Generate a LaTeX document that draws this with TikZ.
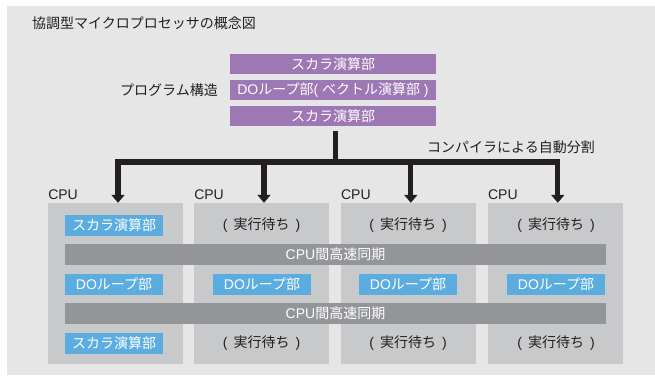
\documentclass[tikz,border=0pt]{standalone}
\usepackage{fontspec}
\setmainfont{Liberation Sans}
\newfontfamily\jp{Noto Sans CJK JP}
\usetikzlibrary{arrows.meta,calc}
\definecolor{bg}{HTML}{E6E6E6}
\definecolor{ink}{HTML}{231F20}
\definecolor{purp}{HTML}{9E77B5}
\definecolor{cpugray}{HTML}{C8C9CB}
\definecolor{syncgray}{HTML}{939598}
\definecolor{blu}{HTML}{5BADE0}
\newcommand{\waitlbl}{(\hspace{6pt}{\jp 実行待ち}\hspace{6pt})}
\begin{document}
\begin{tikzpicture}[x=1pt,y=-1pt,
  every node/.style={font=\fontsize{14}{16}\selectfont, text=ink, inner sep=0pt},
  purplebox/.style={fill=purp, text=white, minimum width=206pt, minimum height=20pt},
  cpubox/.style={fill=cpugray, minimum width=134.5pt, minimum height=161pt},
  syncbar/.style={fill=syncgray, text=white, minimum width=541pt, minimum height=20.7pt},
  bluebox/.style={fill=blu, text=white, minimum width=98pt, minimum height=20.7pt},
  conn/.style={line width=5.2pt, draw=ink, line join=miter},
  tipstyle/.style={-{Triangle[width=13pt,length=8pt]}},
  bothtips/.style={{Triangle[width=13pt,length=8pt]}-{Triangle[width=13pt,length=8pt]}},
  cpulbl/.style={anchor=base west}
]
\useasboundingbox (0,0) rectangle (655,375);
\fill[bg] (7,6) rectangle (655,375);

\node[anchor=west] (title) at (32,23) {\jp 協調型マイクロプロセッサの概念図};

% program structure
\node[purplebox] (p1) at (333,64) {\jp スカラ演算部};
\node[purplebox] (p2) at (333,90) {DO{\jp ループ部}( {\jp ベクトル演算部} )};
\node[purplebox] (p3) at (333,116) {\jp スカラ演算部};
\node[anchor=east] (prog) at (218,90) {\jp プログラム構造};
\node[anchor=west] (comp) at (427,147) {\jp コンパイラによる自動分割};

% CPU boxes
\node[cpubox] (cpu1) at (115.5,283.5) {};
\node[cpubox] (cpu2) at (261.5,283.5) {};
\node[cpubox] (cpu3) at (408.3,283.5) {};
\node[cpubox] (cpu4) at (555.3,283.5) {};
\node[cpulbl] (l1) at ($(cpu1.north west)+(0,-3.6)$) {CPU};
\node[cpulbl] (l2) at ($(cpu2.north west)+(0,-3.6)$) {CPU};
\node[cpulbl] (l3) at ($(cpu3.north west)+(0,-3.6)$) {CPU};
\node[cpulbl] (l4) at ($(cpu4.north west)+(0,-3.6)$) {CPU};

% connectors
\coordinate (stemtop) at (335.5,131);
\coordinate (bus) at (335.5,162);
\coordinate (t1) at ($(cpu1.north)+(2.5,0)$);
\coordinate (t2) at ($(cpu2.north)+(2.5,0)$);
\coordinate (t3) at ($(cpu3.north)+(2.5,0)$);
\coordinate (t4) at ($(cpu4.north)+(2.5,0)$);
\draw[conn] (stemtop) -- (bus);
\draw[conn,bothtips] (t1) -- (t1 |- bus) -- (t4 |- bus) -- (t4);
\draw[conn,tipstyle] (t2 |- bus) -- (t2);
\draw[conn,tipstyle] (t3 |- bus) -- (t3);

% row 1
\node[bluebox] (s1a) at (114,225.3) {\jp スカラ演算部};
\node (w2a) at (261.5,225.3) {\waitlbl};
\node (w3a) at (408,225.3) {\waitlbl};
\node (w4a) at (556,225.3) {\waitlbl};
% sync 1
\node[syncbar] (sync1) at (335.5,254.3) {CPU{\jp 間高速同期}};
% row 2
\node[bluebox] (d1) at (114,284.3) {DO{\jp ループ部}};
\node[bluebox] (d2) at (262,284.3) {DO{\jp ループ部}};
\node[bluebox] (d3) at (408,284.3) {DO{\jp ループ部}};
\node[bluebox] (d4) at (556,284.3) {DO{\jp ループ部}};
% sync 2
\node[syncbar] (sync2) at (335.5,313.3) {CPU{\jp 間高速同期}};
% row 3
\node[bluebox] (s1b) at (114,343.5) {\jp スカラ演算部};
\node (w2b) at (261.5,343.5) {\waitlbl};
\node (w3b) at (408,343.5) {\waitlbl};
\node (w4b) at (556,343.5) {\waitlbl};
\end{tikzpicture}
\end{document}
